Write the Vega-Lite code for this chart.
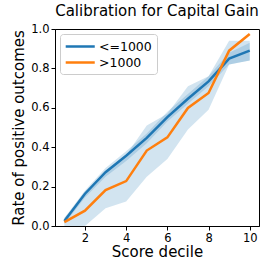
{
  "$schema": "https://vega.github.io/schema/vega-lite/v6.json",
  "width": 204,
  "height": 197,
  "autosize": {"type": "none"},
  "padding": {"left": 55, "top": 29, "right": 16, "bottom": 49},
  "background": "white",
  "title": {"text": "Calibration for Capital Gain", "font": "DejaVu Sans", "fontSize": 15, "fontWeight": "normal", "color": "black", "offset": 4},
  "config": {
    "view": {"stroke": "black", "strokeWidth": 1},
    "axis": {"labelFont": "DejaVu Sans", "titleFont": "DejaVu Sans", "labelFontSize": 11.5, "titleFontSize": 15, "titleFontWeight": "normal", "labelColor": "black", "titleColor": "black", "domainColor": "black", "tickColor": "black", "grid": false, "tickSize": 4, "labelPadding": 2, "labelOverlap": false, "labelBound": false, "labelFlush": false}
  },
  "datasets": {
    "lines": [
      {"decile": 1, "group": "<=1000", "rate": 0.025},
      {"decile": 2, "group": "<=1000", "rate": 0.164},
      {"decile": 3, "group": "<=1000", "rate": 0.273},
      {"decile": 4, "group": "<=1000", "rate": 0.357},
      {"decile": 5, "group": "<=1000", "rate": 0.447},
      {"decile": 6, "group": "<=1000", "rate": 0.553},
      {"decile": 7, "group": "<=1000", "rate": 0.646},
      {"decile": 8, "group": "<=1000", "rate": 0.734},
      {"decile": 9, "group": "<=1000", "rate": 0.85},
      {"decile": 10, "group": "<=1000", "rate": 0.89},
      {"decile": 1, "group": ">1000", "rate": 0.02},
      {"decile": 2, "group": ">1000", "rate": 0.078},
      {"decile": 3, "group": ">1000", "rate": 0.182},
      {"decile": 4, "group": ">1000", "rate": 0.228},
      {"decile": 5, "group": ">1000", "rate": 0.383},
      {"decile": 6, "group": ">1000", "rate": 0.45},
      {"decile": 7, "group": ">1000", "rate": 0.599},
      {"decile": 8, "group": ">1000", "rate": 0.675},
      {"decile": 9, "group": ">1000", "rate": 0.89},
      {"decile": 10, "group": ">1000", "rate": 0.975}
    ],
    "bands": [
      {"decile": 1, "band": "a", "lo": 0.01, "hi": 0.04},
      {"decile": 2, "band": "a", "lo": 0.145, "hi": 0.18},
      {"decile": 3, "band": "a", "lo": 0.25, "hi": 0.295},
      {"decile": 4, "band": "a", "lo": 0.33, "hi": 0.38},
      {"decile": 5, "band": "a", "lo": 0.42, "hi": 0.47},
      {"decile": 6, "band": "a", "lo": 0.53, "hi": 0.58},
      {"decile": 7, "band": "a", "lo": 0.62, "hi": 0.67},
      {"decile": 8, "band": "a", "lo": 0.71, "hi": 0.76},
      {"decile": 9, "band": "a", "lo": 0.82, "hi": 0.88},
      {"decile": 10, "band": "a", "lo": 0.84, "hi": 0.93},
      {"decile": 1, "band": "b", "lo": 0.0, "hi": 0.04},
      {"decile": 2, "band": "b", "lo": 0.0, "hi": 0.16},
      {"decile": 3, "band": "b", "lo": 0.09, "hi": 0.28},
      {"decile": 4, "band": "b", "lo": 0.125, "hi": 0.36},
      {"decile": 5, "band": "b", "lo": 0.25, "hi": 0.51},
      {"decile": 6, "band": "b", "lo": 0.34, "hi": 0.57},
      {"decile": 7, "band": "b", "lo": 0.49, "hi": 0.71},
      {"decile": 8, "band": "b", "lo": 0.59, "hi": 0.76},
      {"decile": 9, "band": "b", "lo": 0.82, "hi": 0.94},
      {"decile": 10, "band": "b", "lo": 0.84, "hi": 0.94}
    ]
  },
  "layer": [
    {
      "data": {"name": "bands"},
      "mark": {"type": "area", "color": "#1f77b4", "opacity": 0.2},
      "encoding": {
        "x": {"field": "decile", "type": "quantitative", "scale": {"domain": [0.545, 10.45], "nice": false, "zero": false}, "axis": {"title": "Score decile", "values": [2, 4, 6, 8, 10], "format": "d", "titlePadding": 1, "labelOverlap": false}},
        "y": {"field": "lo", "type": "quantitative", "scale": {"domain": [0, 1], "nice": false}, "axis": {"title": "Rate of positive outcomes", "values": [0, 0.2, 0.4, 0.6, 0.8, 1.0], "format": ".1f", "titlePadding": 4, "labelOverlap": false, "tickCount": 6}},
        "y2": {"field": "hi"},
        "detail": {"field": "band"}
      }
    },
    {
      "data": {"name": "lines"},
      "mark": {"type": "line", "strokeWidth": 2.5},
      "encoding": {
        "x": {"field": "decile", "type": "quantitative", "axis": {"title": "Score decile", "values": [2, 4, 6, 8, 10], "format": "d", "titlePadding": 1, "labelOverlap": false}},
        "y": {"field": "rate", "type": "quantitative", "axis": {"title": "Rate of positive outcomes", "values": [0, 0.2, 0.4, 0.6, 0.8, 1.0], "format": ".1f", "titlePadding": 4, "labelOverlap": false, "tickCount": 6}},
        "color": {
          "field": "group", "type": "nominal",
          "scale": {"domain": ["<=1000", ">1000"], "range": ["#1f77b4", "#ff7f0e"]},
          "legend": {"title": null, "orient": "top-left", "offset": 5, "fillColor": "white", "strokeColor": "#cccccc", "cornerRadius": 3, "padding": 5, "labelFont": "DejaVu Sans", "labelFontSize": 12.5, "labelColor": "black", "symbolType": "M-1.17,0H3.83", "symbolSize": 135, "symbolStrokeWidth": 2.5, "symbolFillColor": "transparent", "rowPadding": 2, "labelOffset": 19}
        }
      }
    }
  ]
}
